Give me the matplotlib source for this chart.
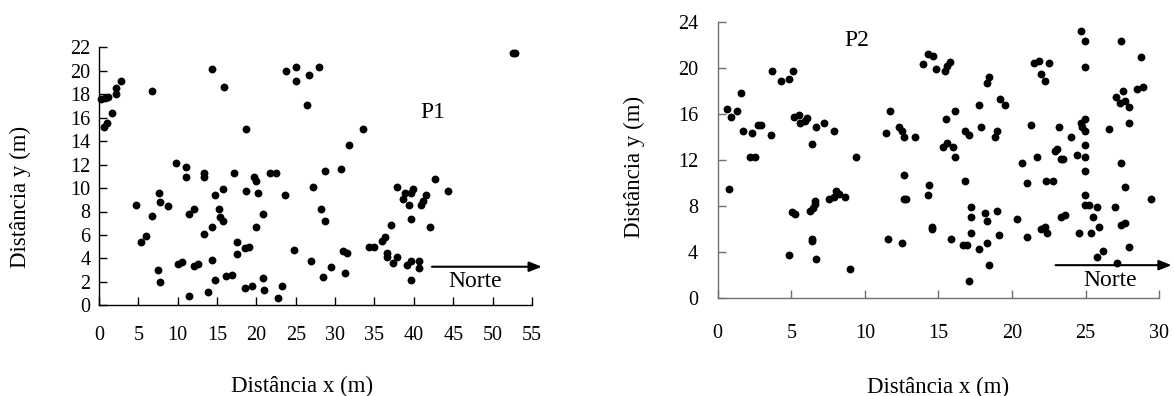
"""Two scatter maps of point positions in the plots P1 and P2."""

import matplotlib

matplotlib.use("Agg")
import matplotlib.pyplot as plt

plt.rcParams["font.family"] = ["Liberation Serif", "DejaVu Serif"]

# P1 positions (m)
p1_x = [0.3, 0.8, 1.1, 0.7, 1.0, 1.7, 2.2, 2.2, 2.75, 6.8, 14.4, 15.9, 18.7,
        9.8, 11.1, 11.1, 13.4, 13.4, 17.2, 21.7, 22.5, 19.75, 20.0, 18.7, 20.25,
        23.6, 15.7, 14.7, 7.6, 7.8, 8.8, 4.75, 6.8, 11.4, 12.1, 15.2, 15.4, 15.7,
        20.8, 14.4, 20.0, 13.4, 5.4, 6.0, 17.5, 17.5, 18.5, 19.0, 24.8, 7.5, 7.8,
        10.1, 10.6, 12.1, 12.6, 14.4, 14.7, 16.2, 16.9, 11.4, 13.9, 18.5, 19.5,
        20.8, 21.0, 22.8, 23.3, 23.8, 25.0, 25.0, 26.65, 27.96, 26.4, 52.6, 52.9,
        33.5, 31.7, 28.7, 30.7, 27.16, 28.17, 28.7, 26.9, 29.44, 28.43, 30.96,
        31.47, 31.2, 34.26, 35.0, 36.0, 36.3, 37.06, 36.55, 36.55, 37.8, 37.3,
        39.1, 39.6, 40.6, 40.6, 39.6, 39.6, 39.34, 38.58, 38.83, 37.8, 39.85,
        39.6, 40.86, 41.1, 41.6, 42.64, 44.4, 42.1]
p1_y = [17.6, 17.7, 17.8, 15.24, 15.58, 16.4, 18.0, 18.5, 19.16, 18.3, 20.18,
        18.65, 15.07, 12.17, 11.83, 10.97, 11.31, 10.97, 11.31, 11.31, 11.31,
        10.97, 10.63, 9.78, 9.61, 9.44, 9.95, 9.44, 9.61, 8.78, 8.44, 8.58, 7.59,
        7.76, 8.24, 8.24, 7.56, 7.22, 7.76, 6.71, 6.71, 6.05, 5.37, 5.88, 5.37,
        4.35, 4.86, 5.0, 4.69, 3.0, 1.96, 3.5, 3.67, 3.33, 3.5, 3.84, 2.13, 2.47,
        2.6, 0.8, 1.1, 1.45, 1.62, 2.3, 1.28, 0.6, 1.62, 20.0, 20.35, 19.16,
        19.67, 20.35, 17.1, 21.55, 21.55, 15.07, 13.7, 11.48, 11.65, 10.12, 8.24,
        7.22, 3.81, 3.3, 2.44, 4.66, 4.49, 2.79, 5.0, 5.0, 5.51, 5.86, 6.88,
        4.49, 4.15, 4.15, 3.64, 3.47, 3.81, 3.81, 3.18, 2.16, 7.39, 8.58, 9.1,
        9.6, 10.12, 9.95, 9.6, 8.58, 8.93, 9.44, 10.8, 9.78, 6.71]

# P2 positions (m)
p2_x = [0.61, 0.9, 1.28, 1.58, 0.77, 1.71, 2.36, 2.23, 2.52, 2.75, 2.97, 3.6,
        3.72, 4.28, 4.82, 5.09, 4.82, 5.02, 5.25, 5.18, 5.52, 5.6, 5.9, 6.06,
        6.44, 6.7, 7.23, 7.93, 9.39, 6.24, 6.5, 6.58, 6.58, 6.44, 6.44, 6.71,
        7.59, 7.93, 8.06, 8.27, 8.63, 9.0, 11.55, 11.45, 11.7, 12.34, 12.5,
        12.63, 13.44, 12.63, 12.68, 12.79, 12.5, 14.26, 14.66, 13.98, 14.84,
        15.45, 15.56, 15.77, 15.5, 16.15, 17.77, 18.45, 18.32, 19.17, 19.53,
        16.83, 17.1, 17.9, 18.99, 18.86, 15.29, 15.6, 15.97, 16.15, 14.39,
        14.26, 16.83, 14.57, 14.57, 15.88, 17.23, 17.23, 17.23, 16.69, 16.96,
        17.77, 18.32, 18.45, 17.1, 18.18, 18.32, 18.99, 19.13, 20.35, 21.02,
        20.66, 21.02, 21.29, 21.7, 21.52, 21.84, 22.5, 21.97, 22.24, 22.33,
        22.78, 21.97, 22.24, 22.38, 23.19, 24.0, 22.92, 23.05, 23.32, 23.45,
        24.4, 23.32, 23.6, 24.68, 24.95, 24.95, 24.68, 24.95, 24.77, 24.95,
        24.95, 24.95, 24.95, 24.95, 24.95, 25.22, 25.76, 25.49, 25.9, 24.54,
        25.35, 25.76, 26.17, 26.98, 26.57, 27.11, 27.38, 28.74, 27.07, 27.52,
        27.34, 27.66, 27.93, 28.47, 28.87, 27.93, 27.38, 27.66, 27.38, 27.66,
        27.93, 29.41]
p2_y = [16.4, 15.74, 16.26, 17.8, 9.48, 14.52, 14.32, 12.26, 12.26, 15.04,
        15.04, 14.17, 19.71, 18.84, 19.0, 19.71, 3.71, 7.42, 7.25, 15.74, 15.88,
        15.22, 15.4, 15.6, 13.33, 14.87, 15.22, 14.52, 12.26, 7.57, 7.77, 8.43,
        8.14, 5.13, 4.9, 3.39, 8.58, 8.78, 9.3, 9.01, 8.78, 2.52, 5.1, 14.35,
        16.26, 14.87, 14.52, 14.0, 14.0, 10.7, 8.6, 8.6, 4.78, 21.19, 21.01,
        20.32, 19.91, 19.74, 20.14, 20.46, 15.57, 16.26, 16.78, 19.22, 18.7,
        17.3, 16.78, 14.52, 14.17, 14.87, 14.52, 14.0, 13.13, 13.48, 13.13,
        12.26, 9.83, 8.96, 10.17, 6.17, 6.0, 5.13, 7.91, 7.04, 5.65, 4.61, 4.61,
        4.26, 4.78, 2.87, 1.48, 7.33, 6.7, 7.57, 5.48, 6.87, 5.3, 11.74, 10.0,
        15.04, 12.26, 20.43, 20.6, 20.43, 19.45, 18.87, 10.17, 10.17, 6.0, 6.17,
        5.65, 14.87, 14.0, 12.78, 12.96, 12.09, 12.09, 12.43, 7.04, 7.22, 23.22,
        22.35, 20.09, 15.22, 15.57, 14.87, 14.52, 13.3, 12.26, 11.04, 8.96,
        8.09, 8.09, 7.91, 7.04, 6.17, 5.65, 5.65, 3.57, 4.09, 7.91, 14.7, 3.04,
        22.35, 20.96, 17.48, 18.0, 16.96, 17.13, 16.61, 18.17, 18.35, 15.22,
        11.74, 9.65, 6.35, 6.52, 4.43, 8.61]

x_ticks_p1 = list(range(0, 56, 5))
y_ticks_p1 = list(range(0, 23, 2))
x_ticks_p2 = list(range(0, 31, 5))
y_ticks_p2 = list(range(0, 25, 4))

TICK_SIZE = 14.5
LABEL_SIZE = 16.5
NOTE_SIZE = 17
DOT_SIZE = 32


def style_axes(ax, color, xpad, ypad):
    for side in ("top", "right"):
        ax.spines[side].set_visible(False)
    for side in ("left", "bottom"):
        ax.spines[side].set_color(color)
        ax.spines[side].set_linewidth(1.0)
    ax.tick_params(direction="in", length=5.5, width=1.0, color=color,
                   labelsize=TICK_SIZE, labelcolor="black")
    ax.tick_params(axis="x", pad=xpad)
    ax.tick_params(axis="y", pad=ypad)


def north_arrow(ax, x0, x1, y, tx, ty):
    ax.annotate("", xy=(x1, y), xytext=(x0, y), annotation_clip=False,
                arrowprops=dict(arrowstyle="-|>,head_length=0.75,head_width=0.3",
                                color="black", lw=1.5, mutation_scale=10,
                                shrinkA=0, shrinkB=0))
    ax.text(tx, ty, "Norte", fontsize=NOTE_SIZE, ha="center", va="center")


fig = plt.figure(figsize=(11.74, 3.96), dpi=100)

ax1 = fig.add_axes([0.0843, 0.229, 0.3688, 0.6515])
ax1.scatter(p1_x, p1_y, s=DOT_SIZE, color="black", linewidths=0, clip_on=False)
ax1.set_xlim(0, 55)
ax1.set_ylim(0, 22)
ax1.set_xticks(x_ticks_p1)
ax1.set_yticks(y_ticks_p1)
style_axes(ax1, "black", xpad=15, ypad=6)
ax1.set_xlabel("Distância x (m)", fontsize=LABEL_SIZE, va="center")
ax1.xaxis.set_label_coords(0.468, -0.3155)
ax1.set_ylabel("Distância y (m)", fontsize=LABEL_SIZE, va="center")
ax1.yaxis.set_label_coords(-0.1824, 0.42)
ax1.text(42.4, 16.4, "P1", fontsize=NOTE_SIZE, ha="center", va="center")
north_arrow(ax1, 42.3, 56.25, 3.29, 47.8, 2.0)

ax2 = fig.add_axes([0.6113, 0.2482, 0.3761, 0.697])
ax2.scatter(p2_x, p2_y, s=DOT_SIZE, color="black", linewidths=0, clip_on=False)
ax2.set_xlim(0, 30)
ax2.set_ylim(0, 24)
ax2.set_xticks(x_ticks_p2)
ax2.set_yticks(y_ticks_p2)
style_axes(ax2, "#707070", xpad=19, ypad=14)
ax2.set_xlabel("Distância x (m)", fontsize=LABEL_SIZE, va="center")
ax2.xaxis.set_label_coords(0.4985, -0.3239)
ax2.set_ylabel("Distância y (m)", fontsize=LABEL_SIZE, va="center")
ax2.yaxis.set_label_coords(-0.1895, 0.4736)
ax2.text(9.44, 22.4, "P2", fontsize=NOTE_SIZE, ha="center", va="center")
north_arrow(ax2, 22.96, 30.84, 2.83, 26.65, 1.54)

fig.savefig("out.png", dpi=100)
